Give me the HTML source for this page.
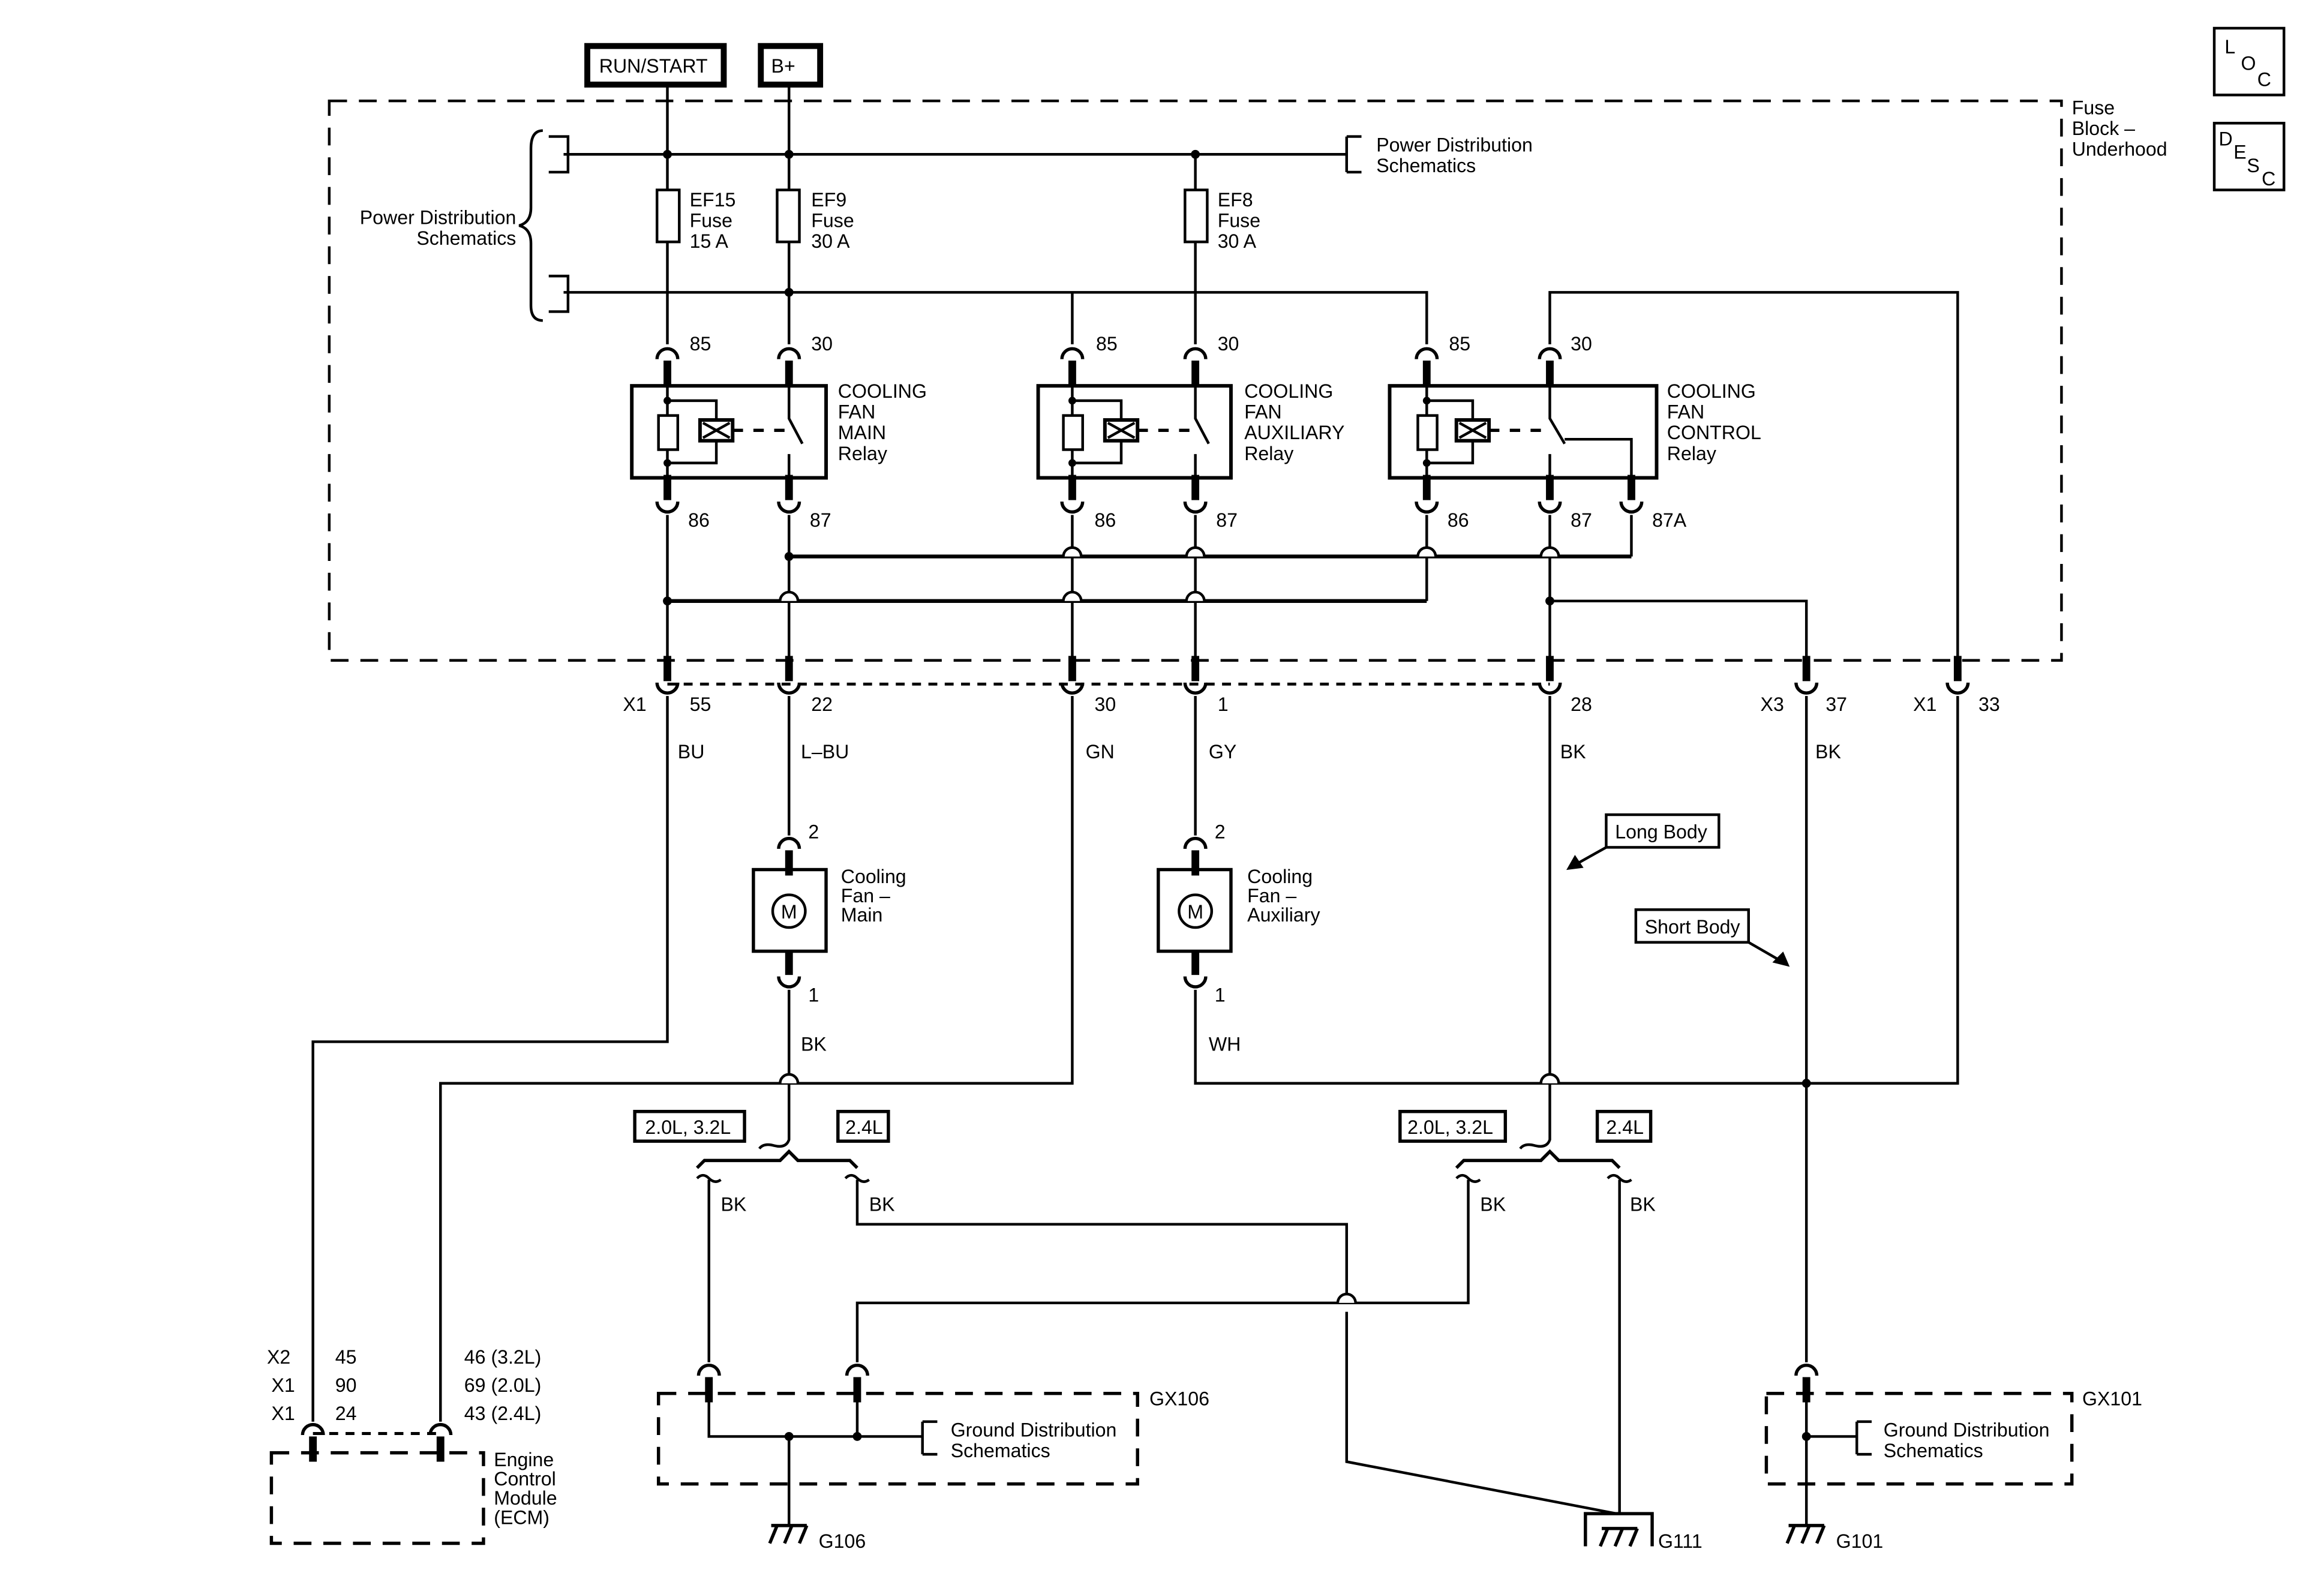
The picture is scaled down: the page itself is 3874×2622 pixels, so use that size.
<!DOCTYPE html>
<html><head><meta charset="utf-8"><style>
html,body{margin:0;padding:0;background:#fff}
svg{display:block}
text{font-family:"Liberation Sans",Arial,sans-serif;font-size:13px;fill:#000}
</style></head><body>
<svg width="3874" height="2622" viewBox="0 0 1567 1060" preserveAspectRatio="none" xmlns="http://www.w3.org/2000/svg">
<defs>
<g id="T"><path d="M-7 2 A7 7 0 0 1 7 2" fill="none" stroke="#000" stroke-width="2.2"/><rect x="-2.6" y="3" width="5.2" height="17"/></g>
<g id="B"><path d="M-7 -2 A7 7 0 0 0 7 -2" fill="none" stroke="#000" stroke-width="2.2"/><rect x="-2.6" y="-20" width="5.2" height="17"/></g>
<g id="H"><path d="M-6 0 A6 6 0 0 1 6 0" fill="#fff" stroke="#000" stroke-width="1.8"/></g>
<g id="GND"><path d="M-12 0 H12 M-8 0 L-13 12 M2 0 L-3 12 M12 0 L7 12" fill="none" stroke="#000" stroke-width="2.2"/></g>
</defs>
<g fill="none" stroke="#000" stroke-width="1.8">
<!-- top boxes -->
<rect x="396" y="31" width="92" height="26" stroke-width="4"/>
<rect x="513" y="31" width="40" height="26" stroke-width="4"/>
<rect x="1493" y="19" width="47" height="45"/>
<rect x="1493" y="83" width="47" height="45"/>
<!-- fuse block dashed -->
<rect x="222" y="68" width="1168" height="377" stroke-dasharray="12,8"/>
<!-- vertical feeds -->
<path d="M450 57 V232 M532 57 V232"/>
<path d="M380 104 H908 M908 92 V116 M908 92 H918 M908 116 H918"/>
<path d="M370 92 H383 V116 H370 M370 186 H383 V210 H370"/>
<path d="M366 88 Q358 88 358 100 V140 Q358 150 350 152 Q358 154 358 164 V206 Q358 216 366 216"/>
<path d="M380 197 H962 V232"/>
<path d="M806 104 V232 M723 197 V232"/>
<path d="M1045 232 V197 H1320 V443"/>
<!-- fuses -->
<rect x="443" y="128" width="15" height="35" fill="#fff"/>
<rect x="524" y="128" width="15" height="35" fill="#fff"/>
<rect x="799" y="128" width="15" height="35" fill="#fff"/>
<!-- relays -->
<rect x="426" y="260" width="131" height="62" stroke-width="2.4"/>
<rect x="700" y="260" width="130" height="62" stroke-width="2.4"/>
<rect x="937" y="260" width="180" height="62" stroke-width="2.4"/>
</g>
<!-- dots -->
<g fill="#000">
<circle cx="450" cy="104" r="3"/><circle cx="532" cy="104" r="3"/><circle cx="806" cy="104" r="3"/>
<circle cx="532" cy="197" r="3"/><circle cx="723" cy="197" r="0"/>
</g>
<!-- relay internals -->
<g fill="none" stroke="#000" stroke-width="1.8">
<g id="coilM">
<path d="M450 260 V322 M450 270 H483 V283 M483 297 V312 H450"/>
<rect x="444" y="280" width="13" height="23" fill="#fff"/>
<rect x="472" y="283" width="22" height="14" stroke-width="2.4"/>
<path d="M474 285 L492 295 M474 295 L492 285"/>
<path d="M494 290 H530" stroke-dasharray="7,7" stroke-width="2.2"/>
<path d="M532 260 V282 L541 299 M532 306 V322"/>
</g>
<path d="M723 260 V322 M723 270 H756 V283 M756 297 V312 H723"/>
<rect x="717" y="280" width="13" height="23" fill="#fff"/>
<rect x="745" y="283" width="22" height="14" stroke-width="2.4"/>
<path d="M747 285 L765 295 M747 295 L765 285"/>
<path d="M767 290 H804" stroke-dasharray="7,7" stroke-width="2.2"/>
<path d="M806 260 V282 L815 299 M806 306 V322"/>
<path d="M962 260 V322 M962 270 H993 V283 M993 297 V312 H962"/>
<rect x="956" y="280" width="13" height="23" fill="#fff"/>
<rect x="982" y="283" width="22" height="14" stroke-width="2.4"/>
<path d="M984 285 L1002 295 M984 295 L1002 285"/>
<path d="M1004 290 H1043" stroke-dasharray="7,7" stroke-width="2.2"/>
<path d="M1045 260 V282 L1055 299 M1055 296 H1100 V322 M1045 306 V322"/>
</g>
<g fill="#000">
<circle cx="450" cy="270" r="2.6"/><circle cx="450" cy="312" r="2.6"/>
<circle cx="723" cy="270" r="2.6"/><circle cx="723" cy="312" r="2.6"/>
<circle cx="962" cy="270" r="2.6"/><circle cx="962" cy="312" r="2.6"/>
</g>
<!-- connectors top/bottom of relays -->
<use href="#T" x="450" y="240"/><use href="#T" x="532" y="240"/><use href="#T" x="723" y="240"/><use href="#T" x="806" y="240"/><use href="#T" x="962" y="240"/><use href="#T" x="1045" y="240"/>
<use href="#B" x="450" y="340"/><use href="#B" x="532" y="340"/><use href="#B" x="723" y="340"/><use href="#B" x="806" y="340"/><use href="#B" x="962" y="340"/><use href="#B" x="1045" y="340"/><use href="#B" x="1100" y="340"/>
<!-- under relays wiring -->
<g fill="none" stroke="#000" stroke-width="1.8">
<path d="M450 347 V455 M532 347 V455 M723 347 V455 M806 347 V455 M962 347 V405 M1045 347 V455 M1100 347 V375"/>
<path d="M532 375 H1100" stroke-width="2.6"/>
<path d="M450 405 H962" stroke-width="2.6"/>
<path d="M1045 405 H1218 V455"/>
</g>
<use href="#H" x="723" y="375"/><use href="#H" x="806" y="375"/><use href="#H" x="962" y="375"/><use href="#H" x="1045" y="375"/>
<use href="#H" x="532" y="405"/><use href="#H" x="723" y="405"/><use href="#H" x="806" y="405"/>
<g fill="#000"><circle cx="532" cy="375" r="3"/><circle cx="450" cy="405" r="3"/><circle cx="1045" cy="405" r="3"/></g>
<!-- X connectors -->
<path d="M450 461 H1045" fill="none" stroke="#000" stroke-width="2" stroke-dasharray="6,5"/>
<use href="#B" x="450" y="462"/><use href="#B" x="532" y="462"/><use href="#B" x="723" y="462"/><use href="#B" x="806" y="462"/><use href="#B" x="1045" y="462"/><use href="#B" x="1218" y="462"/><use href="#B" x="1320" y="462"/>
<!-- lower wires -->
<g fill="none" stroke="#000" stroke-width="1.8">
<path d="M450 469 V702 H211 V958"/>
<path d="M723 469 V730 H297 V958"/>
<path d="M532 469 V563 M532 667 V768 Q530 774 522 772 Q515 770 512 774"/>
<path d="M806 469 V563 M806 667 V730 H1320 V469"/>
<path d="M1045 469 V768 Q1043 774 1035 772 Q1028 770 1025 774"/>
<path d="M1218 469 V918"/>
<path d="M1218 944 V1028"/>
<!-- split left -->
<path d="M470 787 L475 782 H526 L532 776 L538 782 H573 L578 787" stroke-width="2.2"/>
<path d="M470 794 Q474 790 478 794 Q482 798 486 795 M478 795 V918"/>
<path d="M570 794 Q574 790 578 794 Q582 798 586 795 M578 795 V825 H908 V872"/>
<path d="M908 884 V985 L1090 1020"/>
<path d="M578 918 V878 H990 V795"/>
<!-- split right -->
<path d="M982 787 L987 782 H1039 L1045 776 L1051 782 H1087 L1092 787" stroke-width="2.2"/>
<path d="M982 794 Q986 790 990 794 Q994 798 998 795"/>
<path d="M1084 794 Q1088 790 1092 794 Q1096 798 1100 795 M1092 795 V1020"/>
<!-- motors -->
<rect x="508" y="586" width="49" height="55" stroke-width="2.2"/>
<circle cx="532" cy="614" r="11"/>
<rect x="781" y="586" width="49" height="55" stroke-width="2.2"/>
<circle cx="806" cy="614" r="11"/>
<!-- engine labels -->
<rect x="428" y="749" width="74" height="20" stroke-width="2.2"/>
<rect x="565" y="749" width="34" height="20" stroke-width="2.2"/>
<rect x="944" y="749" width="71" height="20" stroke-width="2.2"/>
<rect x="1077" y="749" width="36" height="20" stroke-width="2.2"/>
<!-- long/short body -->
<rect x="1083" y="549" width="76" height="22"/>
<rect x="1103" y="613" width="76" height="22"/>
<path d="M1083 571 L1058 585"/>
<path d="M1179 635 L1205 650"/>
<!-- GX106 -->
<rect x="444" y="939" width="323" height="61" stroke-dasharray="12,8" stroke-width="2.2"/>
<path d="M478 932 V968 H622 M578 932 V968 M532 968 V1028 M622 958 V980 M622 958 H632 M622 980 H632"/>
<!-- GX101 -->
<rect x="1191" y="939" width="206" height="61" stroke-dasharray="12,8" stroke-width="2.2"/>
<path d="M1218 968 H1252 M1252 958 V980 M1252 958 H1262 M1252 980 H1262"/>
<!-- ECM -->
<rect x="183" y="979" width="143" height="61" stroke-dasharray="12,8" stroke-width="2.2"/>
<path d="M211 966 H297" stroke-dasharray="6,5" stroke-width="2"/>
<!-- G111 box -->
<path d="M1069 1042 V1020 H1114 V1042" stroke-width="2.2"/>
</g>
<path d="M1058 585 l8 -1 l-4 -6 z M1205 650 l-3 -7 l-5 5 z" fill="#000" stroke="#000" stroke-width="2"/>
<use href="#H" x="532" y="730"/><use href="#H" x="1045" y="730"/><use href="#H" x="908" y="878"/>
<g fill="#000"><circle cx="1218" cy="730" r="3"/><circle cx="532" cy="968" r="3"/><circle cx="578" cy="968" r="3"/><circle cx="1218" cy="968" r="3"/></g>
<use href="#T" x="532" y="570"/><use href="#B" x="806" y="660"/><use href="#T" x="806" y="570"/><use href="#B" x="532" y="660"/>
<use href="#T" x="478" y="925"/><use href="#T" x="578" y="925"/><use href="#T" x="1218" y="925"/>
<use href="#T" x="211" y="965"/><use href="#T" x="297" y="965"/>
<use href="#GND" x="532" y="1028"/><use href="#GND" x="1218" y="1028"/><use href="#GND" x="1092" y="1030"/>
<text x="1092" y="1032" font-size="0"></text>
<!-- motor M -->
<text x="532" y="619" text-anchor="middle" font-size="12">M</text>
<text x="806" y="619" text-anchor="middle" font-size="12">M</text>
<!-- labels -->
<text x="404" y="49">RUN/START</text>
<text x="520" y="49">B+</text>
<text x="1500" y="36">L</text><text x="1511" y="47" font-size="11">O</text><text x="1522" y="58" font-size="11">C</text>
<text x="1496" y="98" font-size="11">D</text><text x="1506" y="107" font-size="11">E</text><text x="1515" y="116" font-size="11">S</text><text x="1525" y="125" font-size="11">C</text>
<text x="1397" y="77">Fuse</text><text x="1397" y="91">Block –</text><text x="1397" y="105">Underhood</text>
<text x="928" y="102">Power Distribution</text><text x="928" y="116">Schematics</text>
<text x="348" y="151" text-anchor="end">Power Distribution</text><text x="348" y="165" text-anchor="end">Schematics</text>
<text x="465" y="139">EF15</text><text x="465" y="153">Fuse</text><text x="465" y="167">15 A</text>
<text x="547" y="139">EF9</text><text x="547" y="153">Fuse</text><text x="547" y="167">30 A</text>
<text x="821" y="139">EF8</text><text x="821" y="153">Fuse</text><text x="821" y="167">30 A</text>
<text x="465" y="236">85</text><text x="547" y="236">30</text><text x="739" y="236">85</text><text x="821" y="236">30</text><text x="977" y="236">85</text><text x="1059" y="236">30</text>
<text x="565" y="268">COOLING</text><text x="565" y="282">FAN</text><text x="565" y="296">MAIN</text><text x="565" y="310">Relay</text>
<text x="839" y="268">COOLING</text><text x="839" y="282">FAN</text><text x="839" y="296">AUXILIARY</text><text x="839" y="310">Relay</text>
<text x="1124" y="268">COOLING</text><text x="1124" y="282">FAN</text><text x="1124" y="296">CONTROL</text><text x="1124" y="310">Relay</text>
<text x="464" y="355">86</text><text x="546" y="355">87</text><text x="738" y="355">86</text><text x="820" y="355">87</text><text x="976" y="355">86</text><text x="1059" y="355">87</text><text x="1114" y="355">87A</text>
<text x="420" y="479">X1</text><text x="465" y="479">55</text><text x="547" y="479">22</text><text x="738" y="479">30</text><text x="821" y="479">1</text><text x="1059" y="479">28</text>
<text x="1187" y="479">X3</text><text x="1231" y="479">37</text><text x="1290" y="479">X1</text><text x="1334" y="479">33</text>
<text x="457" y="511">BU</text><text x="540" y="511">L–BU</text><text x="732" y="511">GN</text><text x="815" y="511">GY</text><text x="1052" y="511">BK</text><text x="1224" y="511">BK</text>
<text x="545" y="565">2</text><text x="819" y="565">2</text>
<text x="567" y="595">Cooling</text><text x="567" y="608">Fan –</text><text x="567" y="621">Main</text>
<text x="841" y="595">Cooling</text><text x="841" y="608">Fan –</text><text x="841" y="621">Auxiliary</text>
<text x="545" y="675">1</text><text x="819" y="675">1</text>
<text x="540" y="708">BK</text><text x="815" y="708">WH</text>
<text x="1089" y="565">Long Body</text><text x="1109" y="629">Short Body</text>
<text x="435" y="764">2.0L, 3.2L</text><text x="570" y="764">2.4L</text>
<text x="949" y="764">2.0L, 3.2L</text><text x="1083" y="764">2.4L</text>
<text x="486" y="816">BK</text><text x="586" y="816">BK</text><text x="998" y="816">BK</text><text x="1099" y="816">BK</text>
<text x="180" y="919">X2</text><text x="226" y="919">45</text><text x="313" y="919">46 (3.2L)</text>
<text x="183" y="938">X1</text><text x="226" y="938">90</text><text x="313" y="938">69 (2.0L)</text>
<text x="183" y="957">X1</text><text x="226" y="957">24</text><text x="313" y="957">43 (2.4L)</text>
<text x="333" y="988">Engine</text><text x="333" y="1001">Control</text><text x="333" y="1014">Module</text><text x="333" y="1027">(ECM)</text>
<text x="775" y="947">GX106</text><text x="1404" y="947">GX101</text>
<text x="641" y="968">Ground Distribution</text><text x="641" y="982">Schematics</text>
<text x="1270" y="968">Ground Distribution</text><text x="1270" y="982">Schematics</text>
<text x="552" y="1043">G106</text><text x="1118" y="1043">G111</text><text x="1238" y="1043">G101</text>
</svg>
</body></html>
